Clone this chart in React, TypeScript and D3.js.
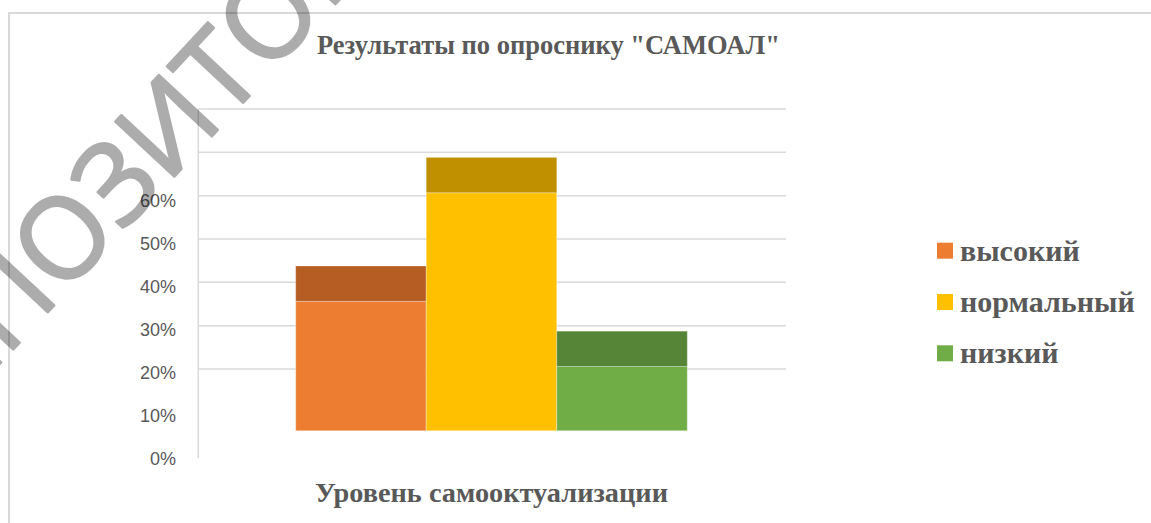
import React from 'react';
import * as d3 from 'd3';

// Survey data: share of respondents by self-actualization level
const categories = ['высокий', 'нормальный', 'низкий'];
const values = [0.36, 0.61, 0.21];
const frontColors = ['#ED7D31', '#FFC000', '#70AD47'];
const topColors = ['#B55D22', '#C09000', '#578537'];
const tickValues = [0, 0.1, 0.2, 0.3, 0.4, 0.5, 0.6];
const gridValues = [0.2, 0.3, 0.4, 0.5, 0.6, 0.7, 0.8];

const W = 1151;
const H = 523;
const textColor = '#595959';
const serif = '"Liberation Serif", "Times New Roman", serif';

const App: React.FC = () => {
  // back wall (gridlines), front wall (labels) and bar faces - 3D look
  const yBack = d3.scaleLinear().domain([0, 0.8]).range([455.7, 109]);
  const yLabel = d3.scaleLinear().domain([0, 0.6]).range([458.3, 200.7]);
  const yBar = d3.scaleLinear().domain([0, 0.8]).range([457.7, 110.2]);
  const x = d3.scaleBand<string>().domain(categories).range([295.7, 687.3]).padding(0);

  const plotLeft = 198.3;
  const plotRight = 786;
  const floorValue = 0.062;
  const topDepth = 35.3;
  const fmt = d3.format('.0%');

  return (
    <svg width={W} height={H} style={{ position: 'absolute', left: 0, top: 0, background: '#fff' }}>
      {/* chart frame */}
      <rect x={9} y={13} width={W + 20} height={H + 20} fill="#fff" stroke="#d9d9d9" strokeWidth={2} />

      {/* title */}
      <text x={548.5} y={54} textAnchor="middle" fontFamily={serif} fontWeight="bold" fontSize={28}
        fill={textColor} textLength={463} lengthAdjust="spacingAndGlyphs">
        {'Результаты  по опроснику "САМОАЛ"'}
      </text>

      {/* back wall gridlines */}
      <g stroke="#d9d9d9" strokeWidth={1.5}>
        {gridValues.map(v => (
          <line key={v} x1={plotLeft} x2={plotRight} y1={yBack(v)} y2={yBack(v)} />
        ))}
        <line x1={plotLeft} x2={plotLeft} y1={yBack(0.8)} y2={458} />
      </g>

      {/* value labels */}
      <g fontFamily='"Liberation Sans", Arial, sans-serif' fontSize={18} fill={textColor} textAnchor="end">
        {tickValues.map(v => (
          <text key={v} x={176} y={yLabel(v)} dy="0.35em">{fmt(v)}</text>
        ))}
      </g>

      {/* bars */}
      {categories.map((c, i) => {
        const x0 = x(c)!;
        const bw = x.bandwidth();
        const yTop = yBar(values[i]);
        const yBottom = yBar(floorValue);
        return (
          <g key={c}>
            <rect x={x0} y={yTop} width={bw} height={yBottom - yTop} fill={frontColors[i]}
              stroke="#ffffff" strokeOpacity={0.35} strokeWidth={1} />
            <rect x={x0} y={yTop - topDepth} width={bw} height={topDepth} fill={topColors[i]}
              stroke="#ffffff" strokeOpacity={0.25} strokeWidth={1} />
          </g>
        );
      })}

      {/* axis title */}
      <text x={491.5} y={501.5} textAnchor="middle" fontFamily={serif} fontWeight="bold" fontSize={28}
        fill={textColor} textLength={353} lengthAdjust="spacingAndGlyphs">
        Уровень самооктуализации
      </text>

      {/* legend */}
      {categories.map((c, i) => {
        const cy = 250.7 + i * 51.3;
        return (
          <g key={c}>
            <rect x={937} y={cy - 8} width={16} height={16} fill={frontColors[i]} />
            <text x={960} y={cy + 10} fontFamily={serif} fontWeight="bold" fontSize={30} fill={textColor}>{c}</text>
          </g>
        );
      })}

      {/* watermark */}
      <g opacity={0.32}>
        <text transform="translate(175,118) rotate(-47)" textAnchor="middle" dy="0.35em"
          fontFamily='"Open Sans", "DejaVu Sans", sans-serif' fontSize={113} fill="#000"
          stroke="#000" strokeWidth={2.5} strokeLinejoin="round">
          РЕПОЗИТОРИЙ
        </text>
      </g>
    </svg>
  );
};

export default App;
